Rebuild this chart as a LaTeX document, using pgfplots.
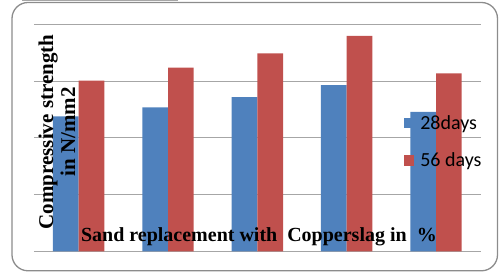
\documentclass[border=0pt]{standalone}
\usepackage{pgfplots}
\pgfplotsset{compat=1.18}
\usepackage{fontspec}
\setmainfont{Liberation Serif}
\newfontfamily\calfont{Carlito}
\definecolor{barblue}{HTML}{4F81BD}
\definecolor{barred}{HTML}{C0504D}
\definecolor{gridgray}{HTML}{A6A6A6}
\definecolor{framegray}{HTML}{8C8C8C}
\begin{document}
\begin{tikzpicture}[x=1pt,y=1pt]
\draw[framegray, line width=1.3pt, rounded corners=16pt] (12pt,1.2pt) rectangle (497.5pt,269.5pt);
\draw[gridgray, line width=0.8pt] (22pt,271.6pt) -- (178pt,271.6pt);
\begin{axis}[
  at={(34pt,20.7pt)}, anchor=south west,
  scale only axis, width=446.7pt, height=226.8pt,
  xmin=-0.5, xmax=4.5, ymin=0, ymax=40,
  ytick={0,10,20,30,40}, yticklabels={}, xtick=\empty,
  ymajorgrids, grid style={gridgray, line width=0.9pt},
  ytick style={draw=none},
  axis line style={draw=none},
  ybar=0pt, bar width=25.7pt,
  xlabel={Sand replacement with~ Copperslag in~ \%},
  xlabel style={at={(axis description cs:0.5035,0.041)}, anchor=base, inner sep=0pt,
    font=\bfseries\fontsize{20}{22}\selectfont},
  ylabel={Compressive strength\\in N/mm2},
  ylabel style={at={(axis description cs:0.0515,0.526)}, anchor=center, align=center, inner sep=0pt,
    font=\bfseries\fontsize{21}{22}\selectfont},
  legend style={at={(axis description cs:0.8275,0.61)}, anchor=north west, draw=none, fill=none,
    font=\calfont\fontsize{20}{24}\selectfont, inner sep=0pt, row sep=18pt, column sep=4pt},
  legend cell align=left,
  legend image code/.code={\fill[#1] (0pt,-5.3pt) rectangle (10.5pt,5.3pt);},
]
\addplot[fill=barblue, draw=none] coordinates {(0,23.8) (1,25.4) (2,27.2) (3,29.3) (4,24.6)};
\addplot[fill=barred, draw=none] coordinates {(0,30.1) (1,32.4) (2,34.9) (3,38.0) (4,31.4)};
\legend{28days, 56 days}
\end{axis}
\pgfresetboundingbox
\path[use as bounding box] (0pt,0pt) rectangle (499pt,272pt);
\end{tikzpicture}
\end{document}
